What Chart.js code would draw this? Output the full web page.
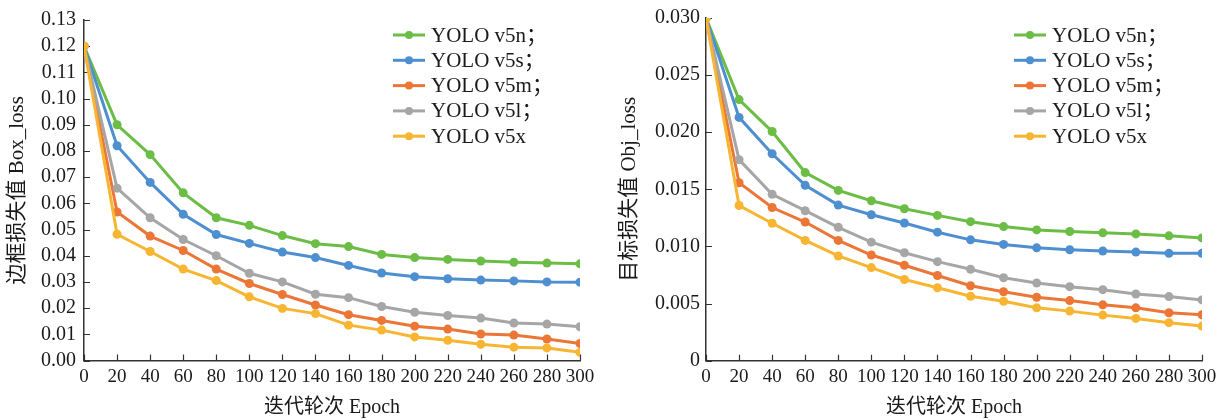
<!DOCTYPE html>
<html>
<head>
<meta charset="utf-8">
<script src="https://cdn.jsdelivr.net/npm/chart.js@4.4.1/dist/chart.umd.min.js"></script>
<style>
  html, body { margin: 0; padding: 0; background: #fff; }
  .row { display: flex; width: 1225px; height: 420px; }
</style>
</head>
<body>
<div class="row">
  <canvas id="boxChart" width="612" height="420"></canvas>
  <canvas id="objChart" width="613" height="420"></canvas>
</div>
<script>
var epochs = [0, 20, 40, 60, 80, 100, 120, 140, 160, 180, 200, 220, 240, 260, 280, 300];
var seriesNames = ['YOLO v5n；', 'YOLO v5s；', 'YOLO v5m；', 'YOLO v5l；', 'YOLO v5x'];
var seriesColors = ['#6bbd45', '#4e8fd0', '#ec7636', '#a6a6a6', '#f7b531'];

// Box_loss
var boxN = [0.120, 0.0900, 0.0786, 0.0640, 0.0545, 0.0516, 0.0477, 0.0446, 0.0435, 0.0405, 0.0393, 0.0386, 0.0380, 0.0375, 0.0372, 0.0369];
var boxS = [0.120, 0.0820, 0.0680, 0.0558, 0.0481, 0.0447, 0.0414, 0.0393, 0.0363, 0.0334, 0.0320, 0.0312, 0.0307, 0.0304, 0.0300, 0.0299];
var boxM = [0.120, 0.0567, 0.0475, 0.0420, 0.0349, 0.0294, 0.0252, 0.0212, 0.0175, 0.0153, 0.0131, 0.0120, 0.0101, 0.0097, 0.0082, 0.0065];
var boxL = [0.120, 0.0658, 0.0545, 0.0462, 0.0400, 0.0333, 0.0300, 0.0253, 0.0240, 0.0206, 0.0184, 0.0172, 0.0162, 0.0143, 0.0139, 0.0129];
var boxX = [0.120, 0.0482, 0.0416, 0.0349, 0.0305, 0.0243, 0.0199, 0.0179, 0.0135, 0.0116, 0.0090, 0.0077, 0.0062, 0.0051, 0.0048, 0.0031];

// Obj_loss
var objN = [0.030, 0.02286, 0.02006, 0.01647, 0.01491, 0.01400, 0.01330, 0.01272, 0.01217, 0.01174, 0.01145, 0.01131, 0.01119, 0.01110, 0.01093, 0.01075];
var objS = [0.030, 0.02130, 0.01812, 0.01535, 0.01362, 0.01278, 0.01205, 0.01125, 0.01058, 0.01018, 0.00988, 0.00971, 0.00960, 0.00951, 0.00940, 0.00940];
var objM = [0.030, 0.01558, 0.01341, 0.01214, 0.01053, 0.00925, 0.00836, 0.00746, 0.00656, 0.00604, 0.00555, 0.00526, 0.00489, 0.00463, 0.00420, 0.00402];
var objL = [0.030, 0.01760, 0.01457, 0.01313, 0.01168, 0.01038, 0.00945, 0.00867, 0.00801, 0.00726, 0.00680, 0.00648, 0.00622, 0.00584, 0.00561, 0.00532];
var objX = [0.030, 0.01359, 0.01203, 0.01053, 0.00917, 0.00815, 0.00711, 0.00639, 0.00564, 0.00520, 0.00463, 0.00434, 0.00399, 0.00370, 0.00333, 0.00303];

var fontFamily = "'Liberation Serif', 'Noto Sans CJK SC', serif";
var axisColor = '#333';
var textColor = '#1a1a1a';

// short tick marks pointing into the plot
var innerTicks = {
  id: 'innerTicks',
  beforeDatasetsDraw: function (chart) {
    var ctx = chart.ctx;
    var xs = chart.scales.x, ys = chart.scales.y;
    ctx.save();
    ctx.strokeStyle = axisColor;
    ctx.lineWidth = 1.2;
    ctx.beginPath();
    xs.ticks.forEach(function (t, i) {
      var px = Math.round(xs.getPixelForTick(i)) + 0.5;
      ctx.moveTo(px, xs.top);
      ctx.lineTo(px, xs.top - 6);
    });
    ys.ticks.forEach(function (t, i) {
      var py = Math.round(ys.getPixelForTick(i)) + 0.5;
      ctx.moveTo(ys.right, py);
      ctx.lineTo(ys.right + 6, py);
    });
    ctx.stroke();
    ctx.restore();
  }
};

// legend: line with a dot, then the name
var lineLegend = {
  id: 'lineLegend',
  afterDraw: function (chart, args, opts) {
    var ctx = chart.ctx;
    ctx.save();
    ctx.font = '21px ' + fontFamily;
    ctx.textBaseline = 'middle';
    chart.data.datasets.forEach(function (ds, i) {
      var y = opts.y + i * 25.3;
      ctx.strokeStyle = ds.borderColor;
      ctx.lineWidth = 3;
      ctx.beginPath();
      ctx.moveTo(opts.x, y);
      ctx.lineTo(opts.x + 32, y);
      ctx.stroke();
      ctx.fillStyle = ds.borderColor;
      ctx.beginPath();
      ctx.arc(opts.x + 16, y, 4, 0, Math.PI * 2);
      ctx.fill();
      ctx.fillStyle = textColor;
      ctx.fillText(ds.label, opts.x + 38, y + 1);
    });
    ctx.restore();
  }
};

function makeChart(id, series, cfg) {
  var datasets = series.map(function (vals, i) {
    return {
      label: seriesNames[i],
      data: epochs.map(function (e, k) { return { x: e, y: vals[k] }; }),
      borderColor: seriesColors[i],
      backgroundColor: seriesColors[i],
      borderWidth: 3,
      pointRadius: 4.5,
      pointBorderWidth: 0,
      order: 5 - i,
      tension: 0
    };
  });

  return new Chart(document.getElementById(id), {
    type: 'line',
    data: { datasets: datasets },
    plugins: [innerTicks, lineLegend],
    options: {
      responsive: false,
      animation: false,
      layout: { padding: cfg.padding },
      plugins: {
        legend: { display: false },
        tooltip: { enabled: false },
        lineLegend: cfg.legend
      },
      scales: {
        x: {
          type: 'linear',
          min: 0,
          max: 300,
          grid: { drawOnChartArea: false, drawTicks: false },
          border: { display: true, color: axisColor, width: 1.5 },
          ticks: { stepSize: 20, padding: 5, color: textColor, maxRotation: 0, autoSkip: false, font: { family: fontFamily, size: 19 } },
          title: { display: true, text: '迭代轮次 Epoch', color: textColor, padding: { top: 2, bottom: 0 }, font: { family: fontFamily, size: 20 } },
          afterFit: function (s) { s.height = cfg.xHeight; }
        },
        y: {
          min: 0,
          max: cfg.yMax,
          grid: { drawOnChartArea: false, drawTicks: false },
          border: { display: true, color: axisColor, width: 1.5 },
          ticks: { stepSize: cfg.yStep, padding: cfg.yPad, autoSkip: false, color: textColor, font: { family: fontFamily, size: 20 }, callback: cfg.yFormat },
          title: { display: true, text: cfg.yTitle, color: textColor, padding: { top: 5, bottom: 0 }, font: { family: fontFamily, size: 21 } },
          afterFit: function (s) { s.width = cfg.yWidth; }
        }
      }
    }
  });
}

makeChart('boxChart', [boxN, boxS, boxM, boxL, boxX], {
  padding: { left: 0, right: 32, top: 16, bottom: 0 },
  xHeight: 59.5,
  yWidth: 84,
  yMax: 0.13,
  yStep: 0.01,
  yPad: 8,
  yTitle: '边框损失值 Box_loss',
  yFormat: function (v) { return v.toFixed(2); },
  legend: { x: 393, y: 35 }
});

makeChart('objChart', [objN, objS, objM, objL, objX], {
  padding: { left: 0, right: 23, top: 14.7, bottom: 0 },
  xHeight: 59.3,
  yWidth: 94,
  yMax: 0.030,
  yStep: 0.005,
  yPad: 6,
  yTitle: '目标损失值 Obj_loss',
  yFormat: function (v) { return v === 0 ? '0' : v.toFixed(3); },
  legend: { x: 402, y: 35 }
});
</script>
</body>
</html>
